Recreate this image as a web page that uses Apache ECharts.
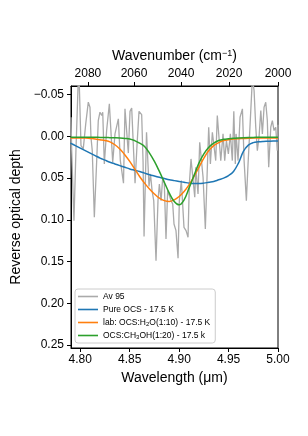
<!DOCTYPE html>
<html>
<head>
<meta charset="utf-8">
<script src="https://cdn.jsdelivr.net/npm/echarts@6/dist/echarts.min.js"></script>
<style>
html,body{margin:0;padding:0;background:#fff;}
#c{width:308px;height:436px;}
</style>
</head>
<body>
<div id="c"></div>
<script>
// ---- data ----
const avWl = [4.7906,4.7913,4.7936,4.7956,4.7980,4.7990,4.8007,4.8030,4.8055,4.8081,4.8098,4.8108,4.8121,4.8142,4.8166,4.8182,4.8199,4.8217,4.8227,4.8243,4.8267,4.8294,4.8311,4.8328,4.8351,4.8385,4.8405,4.8437,4.8452,4.8470,4.8486,4.8503,4.8520,4.8540,4.8554,4.8574,4.8594,4.8621,4.8635,4.8645,4.8670,4.8695,4.8710,4.8726,4.8743,4.8766,4.8786,4.8800,4.8817,4.8834,4.8850,4.8867,4.8884,4.8901,4.8918,4.8935,4.8948,4.8968,4.8989,4.9002,4.9022,4.9036,4.9049,4.9070,4.9090,4.9103,4.9120,4.9137,4.9158,4.9168,4.9191,4.9208,4.9224,4.9242,4.9265,4.9282,4.9299,4.9316,4.9336,4.9353,4.9370,4.9386,4.9404,4.9421,4.9444,4.9461,4.9478,4.9498,4.9518,4.9538,4.9553,4.9568,4.9576,4.9596,4.9616,4.9640,4.9657,4.9680,4.9697,4.9718,4.9741,4.9758,4.9775,4.9791,4.9808,4.9826,4.9842,4.9859,4.9876,4.9892,4.9906,4.9927,4.9943,4.9960,4.9977,4.9993,5.0000];
const avVal = [-0.023,0.017,0.101,0.017,-0.070,-0.062,0.011,0.015,-0.015,-0.041,-0.035,0.001,0.017,0.097,0.029,-0.019,-0.029,-0.025,-0.029,0.033,-0.008,-0.039,-0.038,0.031,-0.003,-0.021,0.029,0.056,-0.033,-0.034,0.020,-0.030,-0.034,0.020,0.056,0.010,-0.030,-0.026,0.030,0.120,-0.005,0.060,0.045,0.065,0.077,0.149,0.077,0.057,0.077,0.049,0.057,0.123,0.065,0.065,0.077,0.081,0.105,0.113,0.146,0.077,0.053,0.053,0.109,0.113,0.121,0.057,0.027,0.029,0.073,0.037,0.069,0.007,0.009,0.049,0.111,0.049,-0.011,0.033,-0.005,-0.007,0.029,-0.025,-0.026,0.029,-0.003,0.029,0.005,0.021,-0.003,0.029,-0.030,0.033,-0.003,0.029,-0.023,-0.033,0.029,0.077,0.033,-0.015,-0.070,-0.055,-0.011,0.017,0.001,-0.031,-0.003,-0.035,-0.041,-0.019,0.037,-0.011,-0.019,-0.007,-0.011,0.017,-0.014];

const modelWl = [4.790,4.795,4.800,4.805,4.810,4.815,4.820,4.825,4.830,4.835,4.840,4.845,4.850,4.855,4.860,4.865,4.870,4.875,4.880,4.885,4.890,4.895,4.900,4.905,4.910,4.915,4.920,4.925,4.930,4.935,4.940,4.945,4.950,4.955,4.960,4.965,4.970,4.975,4.980,4.985,4.990,4.995,5.000];
const pureVal = [0.008,0.011,0.014,0.017,0.020,0.023,0.026,0.0285,0.031,0.033,0.035,0.037,0.039,0.0405,0.042,0.044,0.046,0.0475,0.049,0.0505,0.052,0.053,0.054,0.055,0.056,0.0565,0.0565,0.056,0.055,0.054,0.052,0.050,0.047,0.042,0.032,0.018,0.0105,0.0075,0.0065,0.006,0.0058,0.0056,0.0055];
const h2oVal = [0.002,0.002,0.002,0.002,0.0025,0.003,0.004,0.005,0.0065,0.010,0.015,0.022,0.030,0.039,0.048,0.056,0.063,0.069,0.074,0.077,0.078,0.076,0.072,0.066,0.058,0.048,0.037,0.026,0.017,0.011,0.0075,0.005,0.004,0.0032,0.0028,0.0025,0.0022,0.002,0.002,0.002,0.002,0.002,0.002];
const ch3ohVal = [0.001,0.001,0.001,0.001,0.001,0.001,0.0012,0.0013,0.0015,0.0017,0.002,0.0025,0.003,0.005,0.008,0.012,0.020,0.030,0.042,0.055,0.068,0.078,0.082,0.076,0.062,0.047,0.032,0.021,0.013,0.008,0.005,0.0035,0.0028,0.0022,0.0018,0.0015,0.0013,0.0012,0.0011,0.001,0.001,0.001,0.001];

const seriesNames = ['Av 95','Pure OCS - 17.5 K','lab: OCS:H2O(1:10) - 17.5 K','OCS:CH3OH(1:20) - 17.5 k'];
const legendLabels = ['Av 95','Pure OCS - 17.5 K','lab: OCS:H{sub|2}O(1:10) - 17.5 K','OCS:CH{sub|3}OH(1:20) - 17.5 k'];
const wlTicks = [4.80,4.85,4.90,4.95,5.00];
const wnTicks = [2080,2060,2040,2020,2000];
const yTicks = [-0.05,0.00,0.05,0.10,0.15,0.20,0.25];

// ---- chart ----
const FONT = '"Liberation Sans", Arial, Helvetica, sans-serif';
const zip = (xs, ys) => xs.map((x,i)=>[x, ys[i]]);
const chart = echarts.init(document.getElementById('c'), null, {renderer:'canvas'});
const xMin = 4.7906, xMax = 5.0;
const fmtY = v => (v < 0 ? '\u2212' + Math.abs(v).toFixed(2) : v.toFixed(2));
const legendMap = {};
seriesNames.forEach((n,i)=>{ legendMap[n] = legendLabels[i]; });

chart.setOption({
  animation:false,
  textStyle:{fontFamily:FONT},
  grid:{left:71, right:30, top:86, bottom:88, show:true, borderColor:'#000', borderWidth:1, containLabel:false},
  xAxis:[{
    type:'value', position:'bottom', min:xMin, max:xMax,
    name:'Wavelength (\u03bcm)', nameLocation:'middle', nameGap:20,
    nameTextStyle:{fontSize:14, color:'#000', fontFamily:FONT},
    axisLine:{show:true, onZero:false, lineStyle:{color:'#000', width:1}},
    axisTick:{show:true, inside:false, length:4, customValues:wlTicks, lineStyle:{color:'#000', width:1}},
    axisLabel:{show:true, customValues:wlTicks, formatter:v=>v.toFixed(2), fontSize:12, color:'#000', margin:6, fontFamily:FONT},
    splitLine:{show:false}
  },{
    type:'value', position:'top', min:xMin, max:xMax,
    name:'Wavenumber (cm{sup|\u22121})', nameLocation:'middle', nameGap:19,
    nameTextStyle:{fontSize:14, color:'#000', fontFamily:FONT, rich:{sup:{fontSize:9, verticalAlign:'top', padding:[0,0,3,0], color:'#000', fontFamily:FONT}}},
    axisLine:{show:true, onZero:false, lineStyle:{color:'#000', width:1}},
    axisTick:{show:true, inside:false, length:4, customValues:wnTicks.map(w=>10000/w), lineStyle:{color:'#000', width:1}},
    axisLabel:{show:true, customValues:wnTicks.map(w=>10000/w), formatter:v=>String(Math.round(10000/v)), fontSize:12, color:'#000', margin:6, fontFamily:FONT},
    splitLine:{show:false}
  }],
  yAxis:{
    type:'value', inverse:true, min:-0.0604, max:0.2536,
    name:'Reverse optical depth', nameLocation:'middle', nameGap:42,
    nameTextStyle:{fontSize:14, color:'#000', fontFamily:FONT},
    axisLine:{show:true, onZero:false, lineStyle:{color:'#000', width:1}},
    axisTick:{show:true, inside:false, length:4, customValues:yTicks, lineStyle:{color:'#000', width:1}},
    axisLabel:{show:true, customValues:yTicks, formatter:fmtY, fontSize:12, color:'#000', margin:7, fontFamily:FONT},
    splitLine:{show:false}
  },
  legend:{
    orient:'vertical', left:75, top:289,
    icon:'rect', itemWidth:20, itemHeight:1.6, itemGap:4,
    padding:[3,5,3,3],
    backgroundColor:'rgba(255,255,255,0.85)', borderColor:'#cccccc', borderWidth:1, borderRadius:3,
    data:seriesNames,
    formatter:n=>legendMap[n],
    textStyle:{fontSize:8.5, color:'#000', fontFamily:FONT, lineHeight:9,
      rich:{sub:{fontSize:6, verticalAlign:'bottom', color:'#000', fontFamily:FONT, lineHeight:9}}}
  },
  series:[
    {name:seriesNames[0], type:'line', data:zip(avWl, avVal), showSymbol:false, symbol:'none', color:'#aaaaaa', lineStyle:{color:'#aaaaaa', width:1.3}, clip:true, z:1},
    {name:seriesNames[1], type:'line', data:zip(modelWl, pureVal), showSymbol:false, symbol:'none', smooth:0.4, color:'#1f77b4', lineStyle:{color:'#1f77b4', width:1.5}, clip:true, z:2},
    {name:seriesNames[2], type:'line', data:zip(modelWl, h2oVal), showSymbol:false, symbol:'none', smooth:0.4, color:'#ff7f0e', lineStyle:{color:'#ff7f0e', width:1.5}, clip:true, z:3},
    {name:seriesNames[3], type:'line', data:zip(modelWl, ch3ohVal), showSymbol:false, symbol:'none', smooth:0.4, color:'#2ca02c', lineStyle:{color:'#2ca02c', width:1.5}, clip:true, z:4}
  ]
});
</script>
</body>
</html>
